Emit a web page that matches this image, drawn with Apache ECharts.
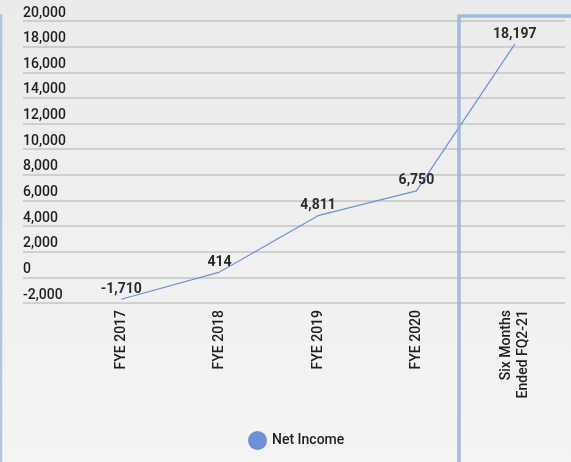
<!DOCTYPE html>
<html>
<head>
<meta charset="utf-8">
<script src="https://cdn.jsdelivr.net/npm/echarts@6/dist/echarts.min.js"></script>
<style>
  html, body { margin: 0; padding: 0; }
  #chart { width: 571px; height: 462px; }
</style>
</head>
<body>
<div id="chart"></div>
<script>
// Net income by period
const categories = ['FYE 2017', 'FYE 2018', 'FYE 2019', 'FYE 2020', 'Six Months\nEnded FQ2-21'];
const netIncome = [-1710, 414, 4811, 6750, 18197];
const seriesName = 'Net Income';

const yMin = -2000, yMax = 20000, yStep = 2000;
const fontFamily = 'Roboto, "Noto Sans", sans-serif';
const lineColor = '#6e91d5';
const frameColor = 'rgba(150,176,220,0.85)';

const chart = echarts.init(document.getElementById('chart'));

chart.setOption({
  backgroundColor: {
    type: 'linear', x: 0, y: 0, x2: 0, y2: 1,
    colorStops: [{ offset: 0, color: '#ebebeb' }, { offset: 1, color: '#f4f4f4' }]
  },
  textStyle: { fontFamily: fontFamily },
  animation: false,
  legend: {
    data: [seriesName],
    left: 243, top: 426,
    icon: 'circle',
    itemWidth: 19, itemHeight: 19,
    itemGap: 10,
    textStyle: { fontSize: 14, color: '#1e1e1e', fontFamily: fontFamily, fontWeight: 500 }
  },
  grid: [
    // full-width grid carrying the value gridlines and labels
    { left: 23, right: 6, top: 21, height: 282 },
    // plotting grid for the categories
    { left: 72, right: 7, top: 21, height: 282 }
  ],
  xAxis: [
    { gridIndex: 0, type: 'value', min: 0, max: 1, show: false },
    {
      gridIndex: 1, type: 'category', data: categories,
      boundaryGap: true,
      axisLine: { show: false },
      axisTick: { show: false },
      axisLabel: {
        rotate: 90, margin: 7, fontSize: 14, color: '#1e1e1e',
        lineHeight: 17, fontFamily: fontFamily, fontWeight: 500, interval: 0
      }
    }
  ],
  yAxis: [
    {
      gridIndex: 0, type: 'value', min: yMin, max: yMax, interval: yStep,
      axisLine: { show: false },
      axisTick: { show: false },
      splitLine: { lineStyle: { color: '#c4c4c4', width: 1.5 } },
      axisLabel: {
        inside: true, margin: 0, fontSize: 14, color: '#1e1e1e',
        verticalAlign: 'bottom', padding: [0, 0, 1, 0],
        fontFamily: fontFamily, fontWeight: 500,
        formatter: v => v.toLocaleString('en-US')
      }
    },
    { gridIndex: 1, type: 'value', min: yMin, max: yMax, interval: yStep, show: false }
  ],
  series: [{
    name: seriesName,
    type: 'line',
    xAxisIndex: 1, yAxisIndex: 1,
    data: netIncome,
    symbol: 'circle', symbolSize: 0, showSymbol: true,
    lineStyle: { color: lineColor, width: 1.2 },
    itemStyle: { color: lineColor },
    label: {
      show: true, position: 'top', distance: 3,
      fontSize: 14, fontWeight: 'bold', color: '#2a2a2a', fontFamily: fontFamily,
      formatter: p => p.value.toLocaleString('en-US')
    },
    z: 3
  }],
  graphic: [
    // outer frame edge on the left
    { type: 'line', shape: { x1: 1, y1: 14, x2: 1, y2: 462 },
      style: { stroke: 'rgba(170,192,228,0.9)', lineWidth: 2.5 }, z: 10 },
    // highlight box around the interim period
    { type: 'polyline', shape: { points: [[459, 462], [459, 16], [571, 16]] },
      style: { stroke: frameColor, lineWidth: 3.5, fill: null }, z: 10 }
  ]
});
</script>
</body>
</html>
